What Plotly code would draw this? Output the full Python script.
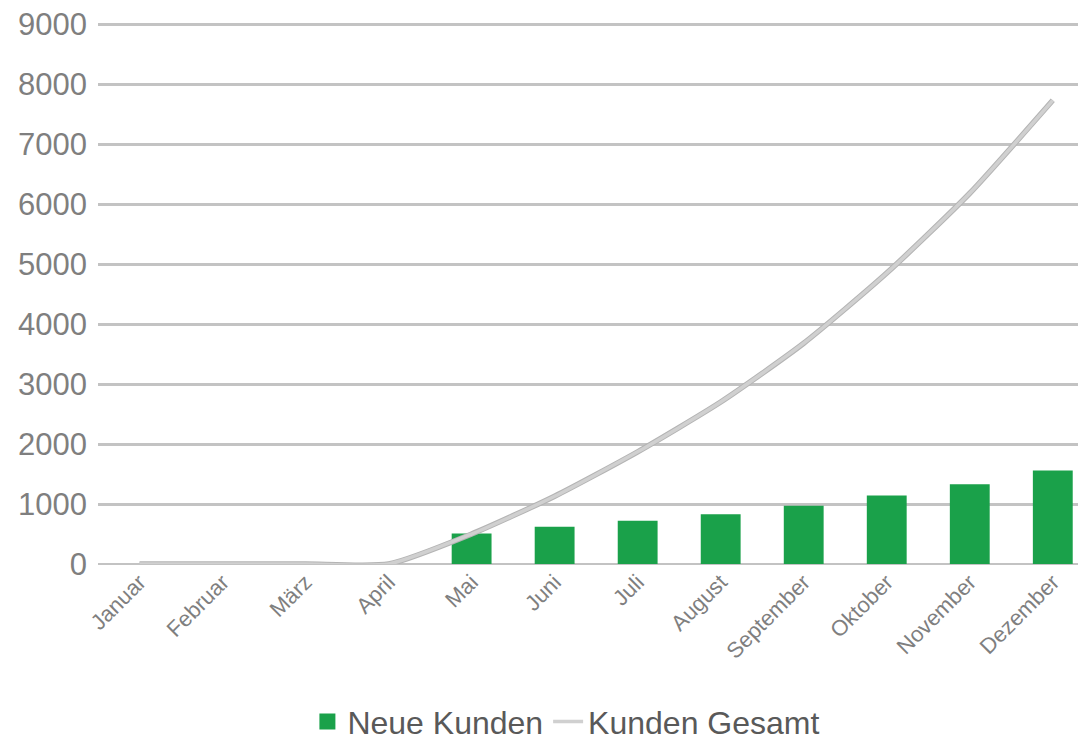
import plotly.graph_objects as go

months = ["Januar", "Februar", "März", "April", "Mai", "Juni", "Juli",
          "August", "September", "Oktober", "November", "Dezember"]
neue_kunden = [0, 0, 0, 0, 510, 620, 720, 830, 970, 1140, 1330, 1560]
kunden_gesamt = [0, 0, 0, 0, 500, 1130, 1870, 2700, 3680, 4850, 6180, 7730]
y_ticks = [0, 1000, 2000, 3000, 4000, 5000, 6000, 7000, 8000, 9000]

font = "Liberation Sans, Arial, sans-serif"
green = "#1aa14a"

fig = go.Figure()
fig.add_trace(go.Bar(
    x=months, y=neue_kunden, name="Neue Kunden", showlegend=False,
    marker=dict(color=green, line=dict(width=0)),
    width=0.48,
))
# legend entry with a larger square symbol
fig.add_trace(go.Scatter(
    x=[None], y=[None], mode="markers", name="Neue Kunden",
    marker=dict(symbol="square", size=21, color=green),
))
# darker outline for the line
fig.add_trace(go.Scatter(
    x=months, y=kunden_gesamt, mode="lines", showlegend=False,
    line=dict(color="#b4b4b4", width=5.5, shape="spline", smoothing=0.6),
    hoverinfo="skip",
))
fig.add_trace(go.Scatter(
    x=months, y=kunden_gesamt, mode="lines", name="Kunden Gesamt",
    line=dict(color="#d0d0d0", width=3.5, shape="spline", smoothing=0.6),
))

fig.update_layout(
    width=1078, height=732,
    margin=dict(l=90, r=0, t=14, b=176, autoexpand=False),
    plot_bgcolor="white", paper_bgcolor="white",
    font=dict(family=font),
    legend=dict(
        orientation="h", xref="container", yref="container",
        x=0.518, xanchor="center", y=0.025, yanchor="middle",
        font=dict(size=32, color="#595959", family=font),
        itemwidth=30, tracegroupgap=0,
    ),
)
fig.update_xaxes(
    range=[-0.5, 11.4], automargin=False,
    tickangle=-45, tickfont=dict(size=22, color="#7f7f7f", family=font),
    showgrid=False, showline=False, ticks="",
)
fig.update_yaxes(
    range=[0, 9035], tickvals=y_ticks, automargin=False,
    tickfont=dict(size=31, color="#7f7f7f", family=font),
    showgrid=True, gridcolor="#c3c3c3", gridwidth=3,
    zeroline=True, zerolinecolor="#c3c3c3", zerolinewidth=2,
    ticks="", ticklen=0, ticklabelstandoff=10,
    ticklabeloverflow="allow",
)

fig.write_html("out.html")
